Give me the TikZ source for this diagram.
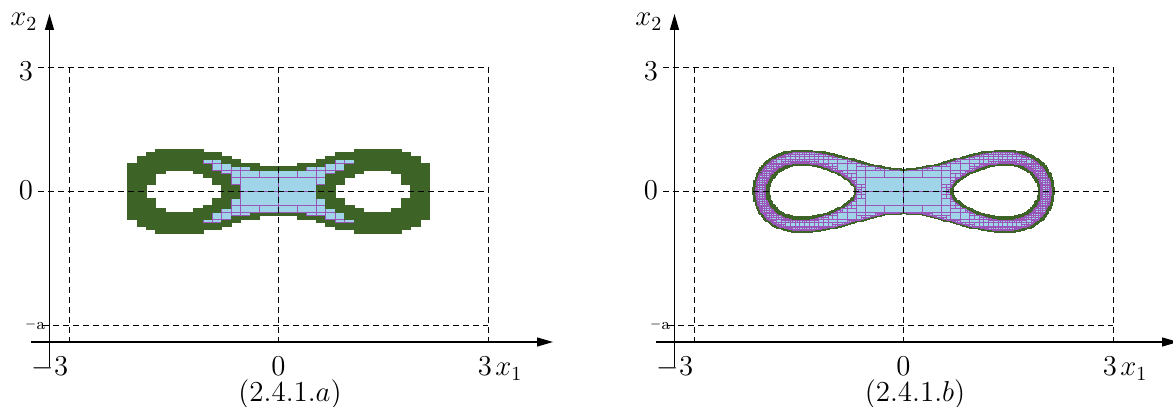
\documentclass[tikz,border=0pt]{standalone}
\usetikzlibrary{arrows.meta}
\definecolor{pavgreen}{RGB}{62,99,38}
\definecolor{pavblue}{RGB}{160,212,232}
\definecolor{pavpurple}{RGB}{155,85,185}
\tikzset{
  inbox/.style={fill=pavblue,draw=pavpurple,line width=0.3pt},
  bdbox/.style={fill=pavgreen,draw=pavgreen,line width=0.2pt},
  axisline/.style={line width=0.6pt,-{Triangle[length=8pt,width=4.5pt]}},
  gridline/.style={line width=0.45pt,dash pattern=on 3pt off 2pt},
  lab/.style={font=\fontsize{14.5}{16}\selectfont,inner sep=0pt},
  smalllab/.style={font=\fontsize{8}{9}\selectfont,inner sep=0pt}
}
% interval square: #3 = lower bound, #4 = upper bound of [#1,#2]^2
\newcommand\sivsq[4]{%
  \edef#3{\fpeval{((#1)*(#2)>0) ? min((#1)*(#1),(#2)*(#2)) : 0}}%
  \edef#4{\fpeval{max((#1)*(#1),(#2)*(#2))}}}
% SIVIA for x^4 - x^2 + 4 y^2 in [-0.1,0.1]; box in pixel units
\newcommand\siv[6]{%
  \sivsq{(#1)/143.5}{(#2)/143.5}\sxl\sxh
  \sivsq{(#3)/138}{(#4)/138}\syl\syh
  % lower bound: exact; upper bound: factored form x^2 (x^2-1)
  \edef\selo{\fpeval{((\sxl<=0.5) && (\sxh>=0.5)) ? -0.25 : min(\sxl*\sxl-\sxl,\sxh*\sxh-\sxh)}}%
  \edef\sehi{\fpeval{max(\sxl*(\sxl-1),\sxl*(\sxh-1),\sxh*(\sxl-1),\sxh*(\sxh-1))}}%
  % natural range (inner test)
  \edef\snlo{\fpeval{\sxl*\sxl-\sxh}}%
  \edef\snhi{\fpeval{\sxh*\sxh-\sxl}}%
  \edef\sres{\fpeval{((\snlo+4*\syl>=-0.1) && (\snhi+4*\syh<=0.1)) ? 1 :
     (((\sehi+4*\syh<-0.1) || (\selo+4*\syl>0.1)) ? 0 : 2)}}%
  \ifcase\sres\relax
  \or \fill[inbox] (#1,#3) rectangle (#2,#4);%
  \or
    \ifnum#5<#6\relax
      \ifodd#5\relax
        \edef\sivmid{\fpeval{((#3)+(#4))/2}}%
        \edef\sivnext{\noexpand\siv{#1}{#2}{#3}{\sivmid}{\the\numexpr#5+1\relax}{#6}%
                      \noexpand\siv{#1}{#2}{\sivmid}{#4}{\the\numexpr#5+1\relax}{#6}}%
      \else
        \edef\sivmid{\fpeval{((#1)+(#2))/2}}%
        \edef\sivnext{\noexpand\siv{#1}{\sivmid}{#3}{#4}{\the\numexpr#5+1\relax}{#6}%
                      \noexpand\siv{\sivmid}{#2}{#3}{#4}{\the\numexpr#5+1\relax}{#6}}%
      \fi
      \sivnext
    \else
      \fill[bdbox] (#1,#3) rectangle (#2,#4);%
    \fi
  \fi}
\begin{document}
\begin{tikzpicture}[x=0.5pt,y=0.5pt]
\useasboundingbox (0,0) rectangle (1173,407);
% pavings
\begin{scope}[shift={(278.3,216)}]
  \siv{-151}{151}{-56}{56}{0}{10}
\end{scope}
\begin{scope}[shift={(903.5,216)}]
  \siv{-151}{151}{-56}{56}{0}{15}
\end{scope}
% frames, axes and labels
\foreach \off/\lab in {0/a,625/b}{
\begin{scope}[shift={(\off,0)}]
  \draw[gridline] (69,340) -- (69,63);
  \draw[gridline] (278.3,340) -- (278.3,63);
  \draw[gridline] (488,340) -- (488,63);
  \draw[gridline] (38,340) -- (488,340);
  \draw[gridline] (38,216) -- (488,216);
  \draw[gridline] (43,82) -- (488,82);
  \coordinate (yb\lab) at (49.5,40);
  \coordinate (yt\lab) at (49.5,393);
  \coordinate (xl\lab) at (31,65);
  \coordinate (xr\lab) at (553,65);
  \coordinate (tka\lab) at (478,65);
  \coordinate (tkb\lab) at (496,65);
  \draw[axisline] (yb\lab) -- (yt\lab);
  \draw[axisline] (xl\lab) -- (xr\lab);
  \draw[line width=1.1pt] (tka\lab) -- (tkb\lab);
  \node[lab,anchor=base] (ythree\lab) at (26,326) {$3$};
  \node[lab,anchor=base] (yzero\lab) at (26,207) {$0$};
  \node[smalllab] (yma\lab) at (35,82) {\raisebox{0.6pt}{$\scriptstyle-$}a};
  \node[lab,anchor=base] (xmthree\lab) at (50,31) {$-3$};
  \node[lab,anchor=base] (xzero\lab) at (278.3,31) {$0$};
  \node[lab,anchor=base] (xthree\lab) at (485,31) {$3$};
  \node[lab,anchor=base west] (xone\lab) at (495,31) {$x_1$};
  \node[lab,anchor=base west] (xtwo\lab) at (10,381) {$x_2$};
  \node[lab,anchor=base] (cap\lab) at (290,5) {(2.4.1.$\lab$)};
\end{scope}}
\end{tikzpicture}
\end{document}
